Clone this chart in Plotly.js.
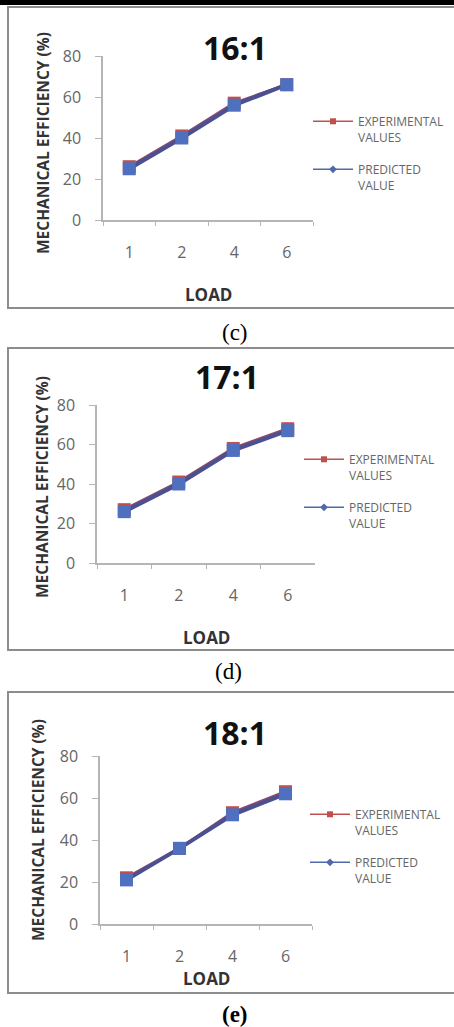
<!DOCTYPE html>
<html>
<head>
<meta charset="utf-8">
<script src="https://cdn.plot.ly/plotly-3.0.1.min.js"></script>
<style>html,body{margin:0;padding:0;background:#fff;}#chart{width:454px;height:1027px;}</style>
</head>
<body>
<div id="chart"></div>
<script>
// ---- data ----
const loads = ['1', '2', '4', '6'];
const ratios = ['16:1', '17:1', '18:1'];
const captions = ['(c)', '(d)', '(e)'];
const experimental16 = [26, 41, 57, 66];
const predicted16 = [25, 40, 56, 66];
const experimental17 = [27, 41, 58, 68];
const predicted17 = [26, 40, 57, 67];
const experimental18 = [22, 36, 53, 63];
const predicted18 = [21, 36, 52, 62];
const yTickVals = [0, 20, 40, 60, 80];
const seriesNames = ['EXPERIMENTAL<br>VALUES', 'PREDICTED<br>VALUE'];
const xTitle = 'LOAD';
const yTitle = 'MECHANICAL EFFICIENCY (%)';

const experimental = [experimental16, experimental17, experimental18];
const predicted = [predicted16, predicted17, predicted18];

// ---- layout geometry (pixels) ----
const W = 454, H = 1027;
const X = p => p / W;
const Y = p => 1 - p / H;
const panels = [
  {ax: [103, 313], ay: [56, 220], frame: [7, 308], title: [235, 48], xtitle: 294, ytitle: [43, 143], cap: [235, 332], capBold: false, leg: [313, 117, 165]},
  {ax: [97, 315], ay: [405, 563], frame: [348, 650], title: [227, 377], xtitle: 637, ytitle: [42, 487], cap: [228, 671], capBold: false, leg: [304, 455, 503]},
  {ax: [100, 312], ay: [756, 924], frame: [692, 993], title: [235, 732], xtitle: 978, ytitle: [38, 830], cap: [235, 1014], capBold: true, leg: [310, 810, 858]}
];

const red = '#c0504d', blue = '#4f6fbf', lineBlue = '#4a5090';
const axisGray = '#b5b5b5';
const traces = [];
const layout = {
  width: W, height: H,
  margin: {l: 0, r: 0, t: 0, b: 0},
  paper_bgcolor: '#ffffff', plot_bgcolor: 'rgba(0,0,0,0)',
  showlegend: true,
  shapes: [
    {type: 'rect', xref: 'paper', yref: 'paper', x0: 0, x1: 1, y0: Y(5), y1: 1, fillcolor: '#000', line: {width: 0}}
  ],
  annotations: []
};

panels.forEach((p, i) => {
  const s = i === 0 ? '' : String(i + 1);
  const xa = 'x' + s, ya = 'y' + s;
  layout['xaxis' + s] = {
    domain: [X(p.ax[0]), X(p.ax[1])], anchor: ya,
    type: 'category', range: [-0.5, 3.5], tickson: 'boundaries',
    ticks: 'outside', ticklen: 4, tickcolor: axisGray, tickwidth: 1,
    showline: true, linecolor: axisGray, linewidth: 1.5, showgrid: false, zeroline: false,
    tickfont: {family: 'Open Sans', size: 16, color: '#666'}, ticklabelstandoff: 17,
    fixedrange: true
  };
  layout['yaxis' + s] = {
    domain: [Y(p.ay[1]), Y(p.ay[0])], anchor: xa,
    range: [0, 80], tickvals: yTickVals,
    ticks: 'outside', ticklen: 6, tickcolor: axisGray, tickwidth: 1,
    showline: true, linecolor: axisGray, linewidth: 1.5, showgrid: false, zeroline: false,
    tickfont: {family: 'Open Sans', size: 16, color: '#666'}, ticklabelstandoff: 11,
    fixedrange: true
  };
  // plotted series
  traces.push({
    type: 'scatter', mode: 'lines+markers', x: loads, y: experimental[i], xaxis: xa, yaxis: ya,
    line: {color: '#8a4a70', width: 3}, marker: {symbol: 'square', size: 13, color: red},
    showlegend: false, hoverinfo: 'x+y'
  });
  traces.push({
    type: 'scatter', mode: 'lines+markers', x: loads, y: predicted[i], xaxis: xa, yaxis: ya,
    line: {color: lineBlue, width: 4}, marker: {symbol: 'square', size: 13, color: blue},
    showlegend: false, hoverinfo: 'x+y'
  });
  // legend entries
  const legA = 'legend' + (i * 2 === 0 ? '' : String(i * 2 + 1));
  const legB = 'legend' + String(i * 2 + 2);
  traces.push({
    type: 'scatter', mode: 'lines+markers', x: [null], y: [null], xaxis: xa, yaxis: ya,
    name: seriesNames[0], legend: legA,
    line: {color: red, width: 1.5}, marker: {symbol: 'square', size: 6, color: red}
  });
  traces.push({
    type: 'scatter', mode: 'lines+markers', x: [null], y: [null], xaxis: xa, yaxis: ya,
    name: seriesNames[1], legend: legB,
    line: {color: '#4f6aa8', width: 1.5}, marker: {symbol: 'diamond', size: 6, color: '#4f6aa8'}
  });
  const legCommon = {
    xanchor: 'left', yanchor: 'top', valign: 'top', bgcolor: 'rgba(0,0,0,0)',
    font: {family: 'Open Sans', size: 12, color: '#666'}, itemwidth: 40, itemclick: false, itemdoubleclick: false
  };
  layout[legA] = Object.assign({}, legCommon, {x: X(p.leg[0] - 5), y: Y(p.leg[1] - 10)});
  layout[legB] = Object.assign({}, legCommon, {x: X(p.leg[0] - 5), y: Y(p.leg[2] - 10)});

  // frame
  layout.shapes.push({type: 'rect', xref: 'paper', yref: 'paper', x0: X(8), x1: X(470), y0: Y(p.frame[1]), y1: Y(p.frame[0]),
    line: {color: '#8c8c8c', width: 2}, fillcolor: 'rgba(0,0,0,0)'});
  // chart title
  layout.annotations.push({xref: 'paper', yref: 'paper', x: X(p.title[0]), y: Y(p.title[1]), xanchor: 'center', yanchor: 'middle',
    text: '<b>' + ratios[i] + '</b>', showarrow: false, font: {family: 'Open Sans', size: 32, color: '#111'}});
  // axis titles
  layout.annotations.push({xref: 'paper', yref: 'paper', x: X((p.ax[0] + p.ax[1]) / 2), y: Y(p.xtitle), xanchor: 'center', yanchor: 'middle',
    text: '<b>' + xTitle + '</b>', showarrow: false, font: {family: 'Open Sans', size: 17, color: '#333'}});
  layout.annotations.push({xref: 'paper', yref: 'paper', x: X(p.ytitle[0]), y: Y(p.ytitle[1]), xanchor: 'center', yanchor: 'middle',
    text: '<b>' + yTitle + '</b>', textangle: -90, showarrow: false, font: {family: 'Open Sans', size: 15.5, color: '#333'}});
  // caption
  layout.annotations.push({xref: 'paper', yref: 'paper', x: X(p.cap[0]), y: Y(p.cap[1]), xanchor: 'center', yanchor: 'middle',
    text: p.capBold ? '<b>' + captions[i] + '</b>' : captions[i], showarrow: false, font: {family: 'Liberation Serif', size: 23, color: '#000'}});
});

Plotly.newPlot('chart', traces, layout, {displayModeBar: false, staticPlot: false, responsive: false});
</script>
</body>
</html>
